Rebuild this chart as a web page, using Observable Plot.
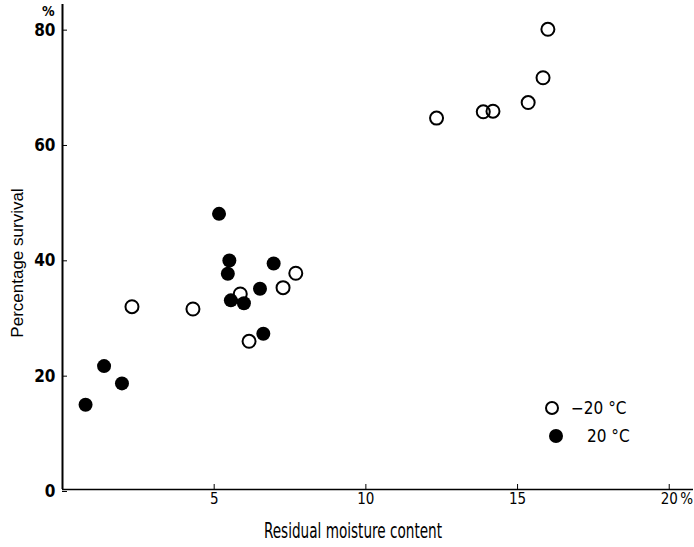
<!DOCTYPE html>
<html><head><meta charset="utf-8">
<script src="https://cdn.jsdelivr.net/npm/d3@7"></script>
<script src="https://cdn.jsdelivr.net/npm/@observablehq/plot@0.6"></script>
<style>
body{margin:0;background:#fff;}
#wrap{position:relative;width:694px;height:547px;overflow:hidden;font-family:"DejaVu Sans Condensed","DejaVu Sans",sans-serif;font-stretch:condensed;color:#000;background:#fff;}
#wrap svg{position:absolute;left:0;top:0;}
.lab{position:absolute;white-space:nowrap;line-height:1;}
.ytitle{left:17px;top:263px;transform:translate(-50%,-50%) rotate(-90deg);font-family:"Liberation Sans",Arial,sans-serif;font-stretch:normal;font-size:17px;}
.xtitle{left:353px;top:531px;transform:translate(-50%,-50%) scaleX(0.72);font-size:21px;}
.sym{position:absolute;width:14px;height:14px;border-radius:50%;box-sizing:border-box;border:2px solid #000;}
.ltext{position:absolute;font-size:17px;line-height:20px;white-space:nowrap;}
</style></head><body><div id="wrap"></div>
<script>
// -20 °C (open circles)
const coldMoisture = [16.0, 15.84, 15.35, 14.19, 13.87, 12.33, 2.29, 4.30, 5.86, 6.15, 7.27, 7.69];
const coldSurvival = [79.8, 71.4, 67.1, 65.6, 65.5, 64.4, 31.7, 31.3, 33.9, 25.7, 35.0, 37.5];
// 20 °C (filled circles)
const warmMoisture = [5.16, 5.50, 6.96, 5.45, 5.55, 5.98, 6.51, 6.62, 1.37, 1.96, 0.76];
const warmSurvival = [47.8, 39.7, 39.2, 37.4, 32.8, 32.3, 34.8, 27.0, 21.4, 18.4, 14.7];
const xTicks = [5, 10, 15, 20];
const yTicks = [0, 20, 40, 60, 80];
const seriesLabels = ["\u221220 \u00b0C", "20 \u00b0C"];
const xTitle = "Residual moisture content";
const yTitle = "Percentage survival";
const unit = "%";

const cold = coldMoisture.map((m, i) => ({m, s: coldSurvival[i]}));
const warm = warmMoisture.map((m, i) => ({m, s: warmSurvival[i]}));
const narrow = '"DejaVu Sans Condensed","DejaVu Sans",sans-serif';

const chart = Plot.plot({
  width: 694, height: 547,
  marginLeft: 62, marginRight: 1, marginTop: 4, marginBottom: 58,
  style: {fontFamily: narrow, fontStretch: "condensed", background: "transparent", color: "#000"},
  x: {domain: [0, 20.8]},
  y: {domain: [0, 84.1]},
  marks: [
    Plot.axisY({ticks: yTicks, tickSize: -5, tickPadding: 12, dy: 2, fontSize: 17, fontWeight: "bold", label: null, tickFormat: d => String(d)}),
    Plot.axisX({ticks: xTicks, tickSize: -5, tickPadding: 9, fontSize: 15, label: null, tickFormat: d => String(d)}),
    Plot.text([yTicks[yTicks.length - 1]], {y: d => d, text: () => unit, frameAnchor: "left", textAnchor: "end", dx: -8, dy: -17, fontSize: 14, fontWeight: "bold"}),
    Plot.text([xTicks[xTicks.length - 1]], {x: d => d, text: () => unit, frameAnchor: "bottom", textAnchor: "start", lineAnchor: "top", dx: 11, dy: 4, fontSize: 15}),
    Plot.ruleX([0], {strokeWidth: 2}),
    Plot.ruleY([0], {strokeWidth: 1.5}),
    Plot.dot(cold, {x: "m", y: "s", r: 6.5, stroke: "#000", strokeWidth: 2, fill: "none"}),
    Plot.dot(warm, {x: "m", y: "s", r: 7, fill: "#000", stroke: "none"})
  ]
});

const wrap = document.getElementById("wrap");
wrap.appendChild(chart);

function addDiv(cls, text, style) {
  const d = document.createElement("div");
  d.className = cls;
  if (text != null) d.textContent = text;
  Object.assign(d.style, style || {});
  wrap.appendChild(d);
  return d;
}
addDiv("lab ytitle", yTitle);
addDiv("lab xtitle", xTitle);
addDiv("sym", null, {left: "545px", top: "401px", background: "transparent"});
addDiv("sym", null, {left: "549px", top: "429px", background: "#000"});
addDiv("ltext", seriesLabels[0], {left: "571px", top: "398px"});
addDiv("ltext", seriesLabels[1], {left: "587px", top: "426px"});
</script>
</body></html>
